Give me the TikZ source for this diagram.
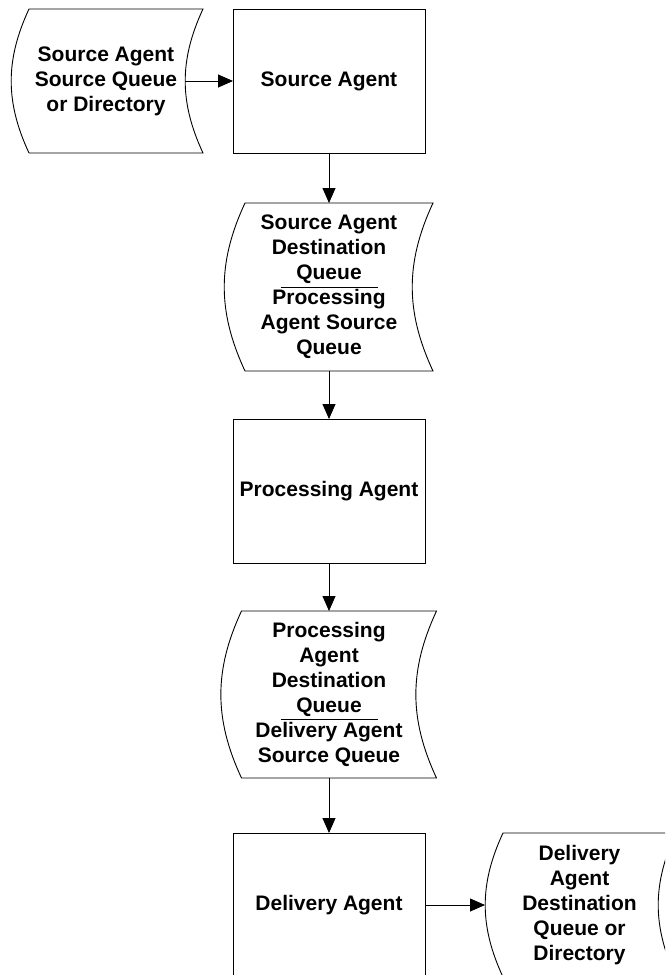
\documentclass[tikz,border=0pt]{standalone}
\usepackage{fontspec}
\setmainfont{Liberation Sans}
\usepackage{tikz}
\usetikzlibrary{positioning,arrows.meta}
\tikzset{
  agent/.style={draw, line width=0.9pt, minimum width=192pt, minimum height=144pt,
    outer sep=0pt, font=\bfseries\fontsize{21}{25}\selectfont},
  queue/.style 2 args={minimum width=#1, minimum height=#2, outer sep=0pt,
    align=center, font=\bfseries\fontsize{21}{25}\selectfont},
  flow/.style={line width=0.9pt, -{Triangle[length=15pt,width=13pt]}}
}
% outline of a queue node: convex left side, concave right side
\newcommand{\queueshape}[1]{%
  \draw[line width=0.9pt] ([xshift=10pt]#1.north west) to[bend right=25] ([xshift=10pt]#1.south west)
    -- ([xshift=10pt]#1.south east) to[bend left=25] ([xshift=10pt]#1.north east) -- cycle;}
\newcommand{\splitline}[1]{\ooalign{\hfil#1\hfil\cr\smash{\rule[-7.5pt]{97pt}{0.6pt}}\cr}}

\begin{document}
\begin{tikzpicture}
            \useasboundingbox (-106pt,81pt) rectangle (559pt,-894pt);
            \clip (-106pt,81pt) rectangle (559pt,-894pt);

            \node (q1) [queue={174pt}{144pt}] {Source Agent\\Source Queue\\or Directory};
            \queueshape{q1}
            \draw node (box1) [agent, right = 40pt of q1] {Source Agent};

            \node (q2) [queue={188pt}{168pt}, below = 50pt of box1]
                {Source Agent\\Destination\\\splitline{Queue}\\Processing\\Agent Source\\Queue};
            \queueshape{q2}
            \draw node (box2) [agent, below = 48pt of q2] {Processing Agent};

            \node (q3) [queue={195pt}{167pt}, below = 48pt of box2]
                {Processing\\Agent\\Destination\\\splitline{Queue}\\Delivery Agent\\Source Queue};
            \queueshape{q3}
            \draw node (box3) [agent, below = 55pt of q3] {Delivery Agent};

            \node (q4) [queue={173pt}{144pt}, right = 68pt of box3]
                {Delivery\\Agent\\Destination\\Queue or\\Directory};
            \queueshape{q4}

            \draw[flow] ([xshift=-8pt]q1.east) -- (box1);
            \draw[flow] (box1) -- (q2);
            \draw[flow] (q2) -- (box2);
            \draw[flow] (box2) -- (q3);
            \draw[flow] (q3) -- (box3);
            \draw[flow] (box3) -- ([xshift=-8pt]q4.west);
        \end{tikzpicture}
\end{document}
